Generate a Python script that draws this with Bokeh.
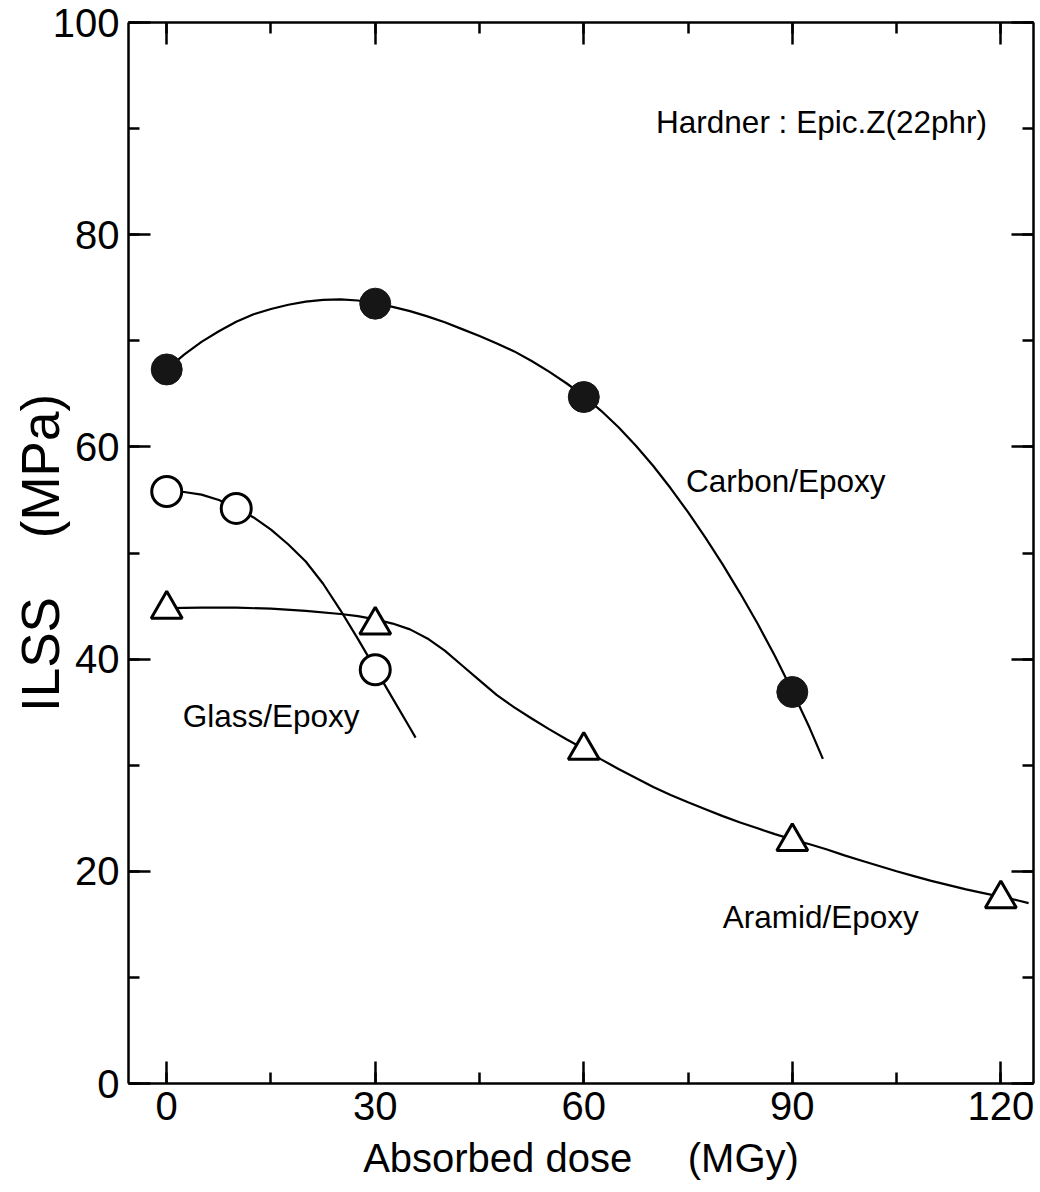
from bokeh.plotting import figure
from bokeh.models import Range1d, LinearAxis, SingleIntervalTicker
from bokeh.core.properties import value
from bokeh.embed import file_html
from bokeh.resources import INLINE

FONT = "Liberation Sans"
NB = "\u00a0"

# measured points
dose_carbon = [0, 30, 60, 90]
ilss_carbon = [67.3, 73.5, 64.7, 36.9]
dose_glass = [0, 10, 30]
ilss_glass = [55.8, 54.2, 39.0]
dose_aramid = [0, 30, 60, 90, 120]
ilss_aramid = [44.7, 43.2, 31.4, 22.8, 17.4]

# hand-drawn trend curves
curve_carbon_x = [0, 2.5, 5, 7.5, 10, 12.5, 15, 17.5, 20, 22.5, 25, 27.5, 30, 32.5, 35, 37.5, 40, 42.5,
                  45, 47.5, 50, 52.5, 55, 57.5, 60, 62.5, 65, 67.5, 70, 72.5, 75, 77.5, 80, 82.5, 85,
                  87.5, 90, 92.5, 94.4]
curve_carbon_y = [67.3, 68.7, 69.9, 70.9, 71.8, 72.5, 73.0, 73.4, 73.7, 73.85, 73.9, 73.8, 73.55, 73.2,
                  72.8, 72.3, 71.75, 71.1, 70.45, 69.75, 69.0, 68.1, 67.1, 66.0, 64.8, 63.4, 61.85,
                  60.1, 58.2, 56.1, 53.85, 51.45, 48.9, 46.2, 43.35, 40.3, 37.0, 33.5, 30.6]
curve_glass_x = [0, 2.5, 5, 7.5, 10, 12.5, 15, 17.5, 20, 22.5, 25, 27.5, 30, 32.5, 35, 35.8]
curve_glass_y = [55.8, 55.75, 55.5, 55.0, 54.25, 53.35, 52.2, 50.8, 49.2, 47.1, 44.6, 41.9, 39.1,
                 36.3, 33.5, 32.6]
curve_aramid_x = [0, 5, 10, 15, 20, 25, 27.5, 30, 32.5, 35, 37.5, 40, 42.5, 45, 47.5, 50, 52.5, 55,
                  57.5, 60, 62.5, 65, 67.5, 70, 72.5, 75, 77.5, 80, 82.5, 85, 87.5, 90, 92.5, 95,
                  97.5, 100, 102.5, 105, 107.5, 110, 112.5, 115, 117.5, 120, 122.5, 124]
curve_aramid_y = [44.8, 44.85, 44.85, 44.75, 44.55, 44.25, 44.05, 43.75, 43.35, 42.8, 41.95, 40.8,
                  39.4, 38.0, 36.6, 35.45, 34.4, 33.4, 32.45, 31.55, 30.55, 29.65, 28.8, 27.95,
                  27.2, 26.5, 25.85, 25.2, 24.6, 24.05, 23.5, 23.0, 22.55, 22.05, 21.5, 21.0,
                  20.5, 20.0, 19.55, 19.1, 18.7, 18.3, 17.95, 17.6, 17.25, 17.0]

# annotations
note_text = ["Hardner : Epic.Z(22phr)"]
note_x = [70.4]
note_y = [90.6]
series_labels = ["Carbon/Epoxy", "Glass/Epoxy", "Aramid/Epoxy"]
series_label_x = [74.7, 2.3, 80.0]
series_label_y = [56.8, 34.6, 15.7]

x_ticks_interval = 30
y_ticks_interval = 20

p = figure(width=1040, height=1192, output_backend="svg", toolbar_location=None,
           x_range=Range1d(-5.5, 124.7), y_range=Range1d(0, 100),
           min_border_left=128, min_border_right=7, min_border_top=22, min_border_bottom=109)
p.grid.visible = False
p.outline_line_color = None
p.background_fill_color = "white"
p.border_fill_color = "white"

bottom = p.xaxis[0]
left = p.yaxis[0]
bottom.ticker = SingleIntervalTicker(interval=x_ticks_interval, num_minor_ticks=2)
left.ticker = SingleIntervalTicker(interval=y_ticks_interval, num_minor_ticks=2)
bottom.axis_label = "Absorbed dose" + NB * 4 + " (MGy)"
left.axis_label = "ILSS" + NB * 3 + " (MPa)"

top = LinearAxis(ticker=SingleIntervalTicker(interval=x_ticks_interval, num_minor_ticks=2))
right = LinearAxis(ticker=SingleIntervalTicker(interval=y_ticks_interval, num_minor_ticks=2))
p.add_layout(top, "above")
p.add_layout(right, "right")

for ax in [bottom, left, top, right]:
    ax.axis_line_color = "black"
    ax.axis_line_width = 2.5
    ax.major_tick_line_color = "black"
    ax.minor_tick_line_color = "black"
    ax.major_tick_line_width = 2.5
    ax.minor_tick_line_width = 2.5
    ax.major_tick_in = 22
    ax.major_tick_out = 0
    ax.minor_tick_in = 11
    ax.minor_tick_out = 0
    ax.major_label_text_font = FONT
    ax.major_label_text_font_size = "40px"
    ax.major_label_text_color = "black"
    ax.axis_label_text_font = FONT
    ax.axis_label_text_font_size = "40px"
    ax.axis_label_text_font_style = "normal"
    ax.axis_label_text_color = "black"

for ax in [top, right]:
    ax.major_label_text_font_size = "1px"
    ax.major_label_text_color = None
    ax.major_label_standoff = 0

left.axis_label_text_font_size = "53px"
bottom.major_label_standoff = 8
bottom.axis_label_standoff = 13
left.major_label_standoff = 9
left.axis_label_standoff = -20

# curves
p.line(curve_carbon_x, curve_carbon_y, line_color="black", line_width=2.2, line_join="round")
p.line(curve_glass_x, curve_glass_y, line_color="black", line_width=2.2, line_join="round")
p.line(curve_aramid_x, curve_aramid_y, line_color="black", line_width=2.2, line_join="round")

# markers
p.scatter(dose_carbon, ilss_carbon, marker="circle", size=31, fill_color="#161616", line_color="#161616", line_width=1)
p.scatter(dose_glass, ilss_glass, marker="circle", size=30, fill_color="white", line_color="black", line_width=3)
p.scatter(dose_aramid, ilss_aramid, marker="triangle", size=31, fill_color="white", line_color="black", line_width=3)

# texts
p.text(note_x, note_y, text=note_text, text_font=value(FONT), text_font_size="31.5px",
       text_align="left", text_baseline="middle", text_color="black")
p.text(series_label_x, series_label_y, text=series_labels, text_font=value(FONT), text_font_size="31.5px",
       text_align="left", text_baseline="middle", text_color="black")

open("out.html", "w").write(file_html(p, INLINE))
